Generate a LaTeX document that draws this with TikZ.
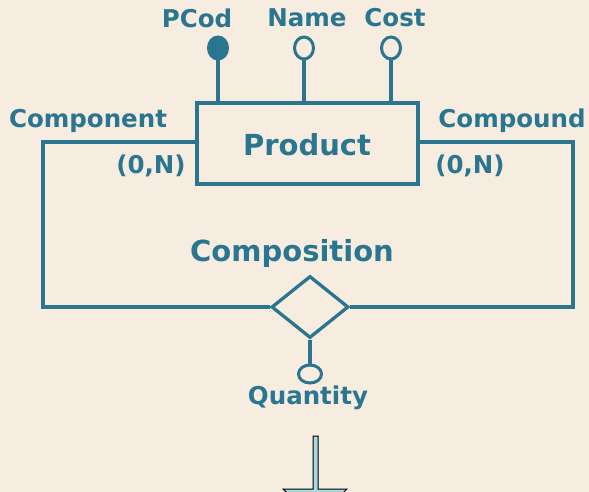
\documentclass[tikz,border=0pt]{standalone}
\usepackage{fontspec}
\setmainfont{DejaVu Sans}
\usetikzlibrary{shapes.geometric}
\definecolor{teal1}{HTML}{2A7590}
\definecolor{bg}{HTML}{F6ECDF}
\definecolor{lblue}{HTML}{A8D8E2}
\begin{document}
\begin{tikzpicture}[x=1pt,y=-1pt,
  line width=3.3pt,
  lbl/.style={text=teal1,font=\bfseries\fontsize{24.5}{27}\selectfont,inner sep=0pt},
  biglbl/.style={text=teal1,font=\bfseries\fontsize{29}{32}\selectfont,inner sep=0pt},
  attr/.style={draw=teal1,ellipse,minimum width=19pt,minimum height=22pt,inner sep=0pt,line width=3pt},
  key/.style={attr,fill=teal1},
  conn/.style={draw=teal1,line join=miter}]
\path[fill=bg] (0,0) rectangle (589,492);
\useasboundingbox (0,0) rectangle (589,492);
\begin{scope}
\clip (0,0) rectangle (589,492);
% entity
\node[draw=teal1,minimum width=221pt,minimum height=81pt,inner sep=0pt] (prod) at (307.5,143.5) {};
\node[biglbl] (prodl) at (307,145) {Product};
% attributes
\node[key] (pcod) at (218,48) {};
\node[attr] (name) at (304,48) {};
\node[attr] (cost) at (391,48) {};
\node[lbl] (pcodl) at (197,18) {PCod};
\node[lbl] (namel) at (307,18) {Name};
\node[lbl] (costl) at (395,18) {Cost};
\coordinate (pcodb) at (218,103);
\coordinate (nameb) at (304,103);
\coordinate (costb) at (391,103);
\draw[conn] (pcod) -- (pcodb);
\draw[conn] (name) -- (nameb);
\draw[conn] (cost) -- (costb);
% relationship
\node[draw=teal1,diamond,minimum width=77pt,minimum height=62pt,inner sep=0pt,aspect=1.24] (rel) at (310,307) {};
\node[biglbl] (rell) at (292,253) {Composition};
\coordinate (lc) at (197,142);
\coordinate (rc) at (418,142);
\draw[conn] (lc) -- (43,142) -- (43,307) -- (rel.west);
\draw[conn] (rc) -- (573,142) -- (573,307) -- (rel.east);
\node[lbl] (compl) at (88,121) {Component};
\node[lbl] (cmpdl) at (512,121) {Compound};
\node[lbl] (card1) at (151,166) {(0,N)};
\node[lbl] (card2) at (470,166) {(0,N)};
% quantity
\node[attr,minimum width=23pt,minimum height=18pt] (qty) at (310,374) {};
\draw[conn] (rel.south) -- (qty.north);
\node[lbl] (qtyl) at (308,398) {Quantity};
% bottom arrow
\draw[line width=1pt,fill=lblue] (313,436) -- (318,436) -- (318,489) -- (347,489) -- (315.5,520) -- (283,489) -- (313,489) -- cycle;
\end{scope}
\end{tikzpicture}
\end{document}
